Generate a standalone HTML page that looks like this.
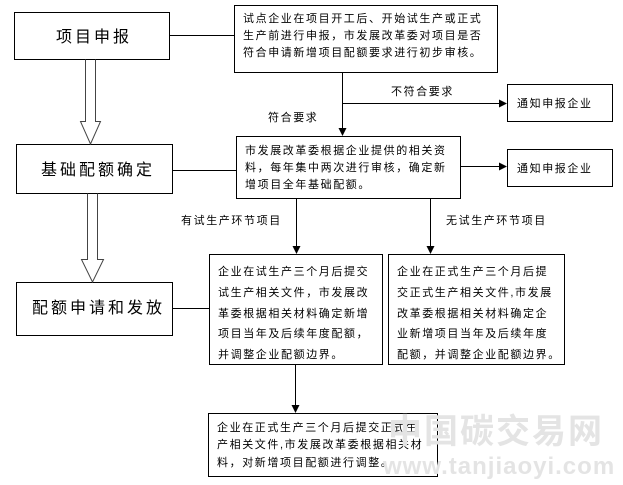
<!DOCTYPE html>
<html><head><meta charset="utf-8"><style>
body{margin:0;background:#fff;}
svg{display:block;}
text{font-family:"Liberation Sans","Noto Sans CJK SC","WenQuanYi Zen Hei",sans-serif;fill:#000;}
.s{font-size:11px;letter-spacing:1.6px;}
.b{font-size:16px;letter-spacing:3px;}
</style></head><body>
<svg width="623" height="485" viewBox="0 0 623 485" xmlns="http://www.w3.org/2000/svg">
<defs><marker id="a" markerWidth="8" markerHeight="8" refX="7" refY="4" orient="auto" markerUnits="userSpaceOnUse"><path d="M0,0 L8,4 L0,8 Z" fill="#000"/></marker></defs>
<g fill="none" stroke="#000" stroke-width="1">
<rect x="14.5" y="12.5" width="155" height="47"/>
<rect x="16.5" y="144.5" width="156" height="49"/>
<rect x="16.5" y="282.5" width="156" height="53"/>
<rect x="234.5" y="5.5" width="263" height="67"/>
<rect x="507.5" y="84.5" width="105" height="37"/>
<rect x="236.5" y="136.5" width="224" height="62"/>
<rect x="507.5" y="149.5" width="105" height="37"/>
<rect x="209.5" y="254.5" width="173" height="110"/>
<rect x="388.5" y="254.5" width="176" height="110"/>
<rect x="208.5" y="413.5" width="229" height="63"/>
<path d="M169.5,35.5 H234.5 M172.5,170.5 H236.5 M172.5,308.5 H209.5"/>
<path d="M342.5,72.5 V135" marker-end="url(#a)"/>
<path d="M342.5,103.5 H506" marker-end="url(#a)"/>
<path d="M460.5,166.5 H506" marker-end="url(#a)"/>
<path d="M296.5,198.5 V253" marker-end="url(#a)"/>
<path d="M430.5,198.5 V253" marker-end="url(#a)"/>
<path d="M295.5,364.5 V412" marker-end="url(#a)"/>
<path d="M85.5,59.5 V121.5 H80.5 L90.5,144 L100.5,121.5 H95.5 V59.5" stroke="#444"/>
<path d="M87.5,193.5 V259.5 H81.5 L92.5,282 L103.5,259.5 H97.5 V193.5" stroke="#444"/>
</g>
<text class="b" x="56" y="42">项目申报</text>
<text class="b" x="41" y="175">基础配额确定</text>
<text class="b" x="32" y="313">配额申请和发放</text>
<text class="s" x="243" y="22">试点企业在项目开工后、开始试生产或正式</text>
<text class="s" x="243" y="39">生产前进行申报，市发展改革委对项目是否</text>
<text class="s" x="243" y="56">符合申请新增项目配额要求进行初步审核。</text>
<text class="s" x="391" y="95">不符合要求</text>
<text class="s" x="268" y="121">符合要求</text>
<text class="s" x="517" y="107">通知申报企业</text>
<text class="s" x="517" y="172">通知申报企业</text>
<text class="s" x="245" y="154">市发展改革委根据企业提供的相关资</text>
<text class="s" x="245" y="171">料，每年集中两次进行审核，确定新</text>
<text class="s" x="245" y="188">增项目全年基础配额。</text>
<text class="s" x="181" y="224">有试生产环节项目</text>
<text class="s" x="446" y="224">无试生产环节项目</text>
<text class="s" x="218" y="275">企业在试生产三个月后提交</text>
<text class="s" x="218" y="296">试生产相关文件，市发展改</text>
<text class="s" x="218" y="317">革委根据相关材料确定新增</text>
<text class="s" x="218" y="337">项目当年及后续年度配额，</text>
<text class="s" x="218" y="358">并调整企业配额边界。</text>
<text class="s" x="397" y="275">企业在正式生产三个月后提</text>
<text class="s" x="397" y="296">交正式生产相关文件,市发展</text>
<text class="s" x="397" y="317">改革委根据相关材料确定企</text>
<text class="s" x="397" y="337">业新增项目当年及后续年度</text>
<text class="s" x="397" y="358">配额，并调整企业配额边界。</text>
<text class="s" x="217" y="431">企业在正式生产三个月后提交正式生</text>
<text class="s" x="217" y="448">产相关文件,市发展改革委根据相关材</text>
<text class="s" x="217" y="466">料，对新增项目配额进行调整。</text>
<text x="388" y="443" style="font-size:34px;font-weight:bold;fill:#e4e4e4;letter-spacing:2px">中国碳交易网</text>
<text x="383" y="474" style="font-size:24px;font-weight:bold;fill:#e4e4e4;letter-spacing:1px">www.tanjiaoyi.com</text>
</svg>
</body></html>
